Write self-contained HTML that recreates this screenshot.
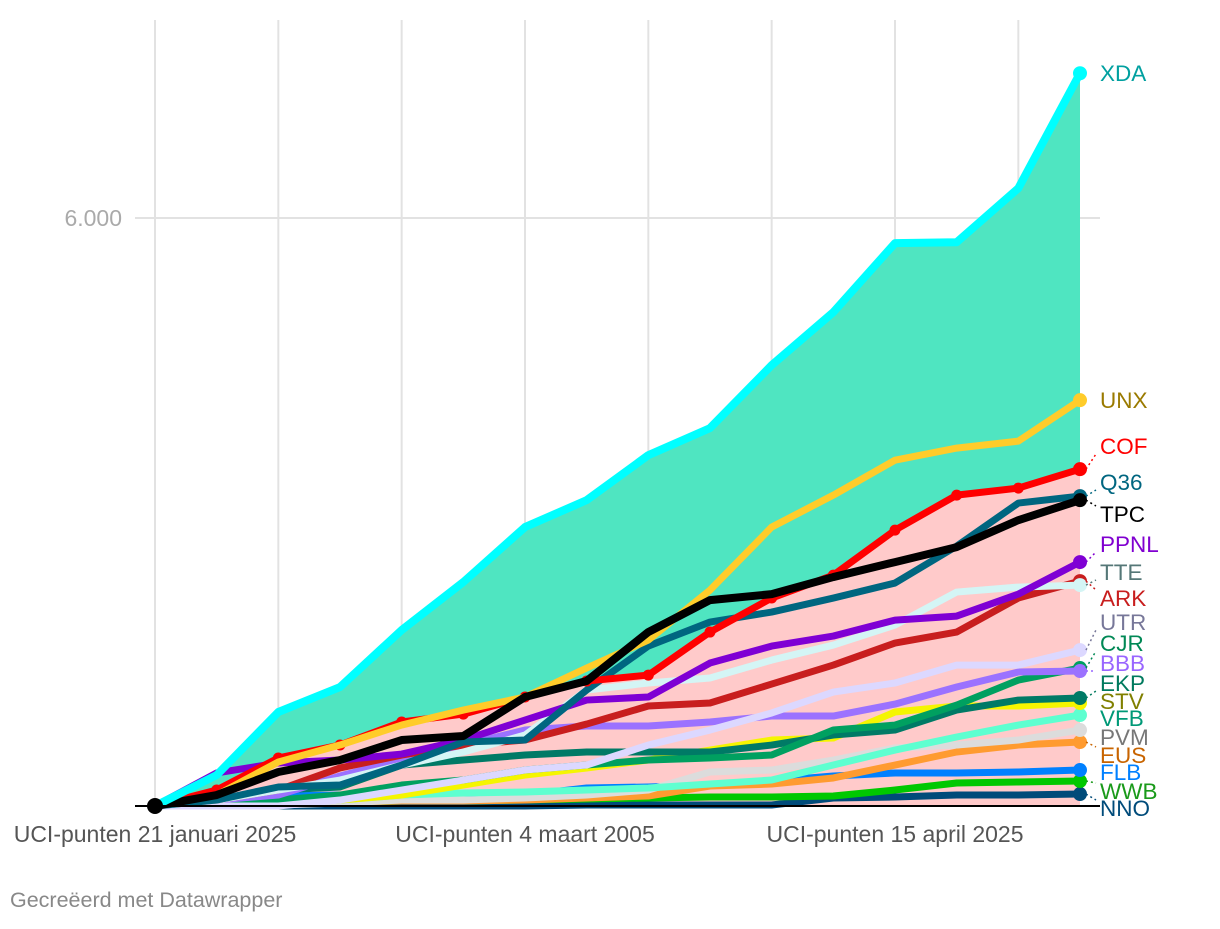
<!DOCTYPE html>
<html><head><meta charset="utf-8"><style>
body{margin:0;background:#fff;font-family:"Liberation Sans",sans-serif;}
svg text{font-family:"Liberation Sans",sans-serif;}
</style></head><body>
<svg id="chart" width="1220" height="924" xmlns="http://www.w3.org/2000/svg">
<g id="grid"></g><g id="areas"></g><g id="lines"></g><g id="labels"></g>
<text x="10" y="907" font-size="21.5" fill="#888">Gecreëerd met Datawrapper</text>
</svg>
<script>
const NS="http://www.w3.org/2000/svg";
const xTickLabels=["UCI-punten 21 januari 2025","UCI-punten 4 maart 2005","UCI-punten 15 april 2025"];
const xTickIdx=[0,6,12];
const yTicks=[6000];
const names=["NNO","WWB","FLB","EUS","PVM","VFB","STV","EKP","CJR","BBB","UTR","ARK","TTE","PPNL","Q36","COF","UNX","TPC","XDA"];
const colors=["#004b7a","#00c800","#0080ff","#ff9b30","#dcdcdc","#5effd0","#f5f500","#007a66","#00a060","#9b72ff","#dcd8ff","#c81e1e","#d4f5f5","#7f00d4","#006680","#ff0000","#ffcc2a","#000000","#00ffff"];
const labelColors=["#004b7a","#1a9a1a","#0080ff","#c86400","#777777","#009977","#808000","#007a5e","#008855","#9966ff","#777799","#c81e1e","#557777","#8000d0","#006680","#ff0000","#9a7a00","#000000","#00a0a0"];
const labelY=[808,791,772,755,737,718,701,683,643,663,622,598,572,544,482,446,400,514,73];
const sNNO=[0,0,0,0,0,0,0,10,10,10,10,82,92,112,112,122];
const sWWB=[0,10,20,41,51,51,61,71,82,92,92,102,163,235,245,255];
const sFLB=[0,61,102,112,112,112,112,184,194,214,255,306,337,337,347,367];
const sEUS=[0,10,31,41,51,51,61,82,102,204,224,286,418,551,622,653];
const sPVM=[0,0,10,31,61,61,82,112,163,347,367,469,592,622,673,775];
const sVFB=[0,0,20,61,112,133,143,163,184,224,265,418,571,704,826,928];
const sSTV=[0,0,10,61,112,214,316,388,469,571,673,694,959,1020,1020,1051];
const sEKP=[0,61,163,194,418,469,520,551,551,551,622,724,775,979,1081,1102];
const sCJR=[0,10,61,112,214,265,367,418,469,490,520,775,826,1030,1285,1408];
const sBBB=[0,61,112,306,469,622,775,816,816,857,918,918,1040,1214,1367,1377];
const sUTR=[0,0,0,61,163,265,367,418,622,775,949,1163,1255,1438,1438,1591];
const sARK=[0,61,163,388,520,622,673,836,1020,1051,1244,1438,1663,1775,2122,2295];
const sTTE=[0,61,163,265,418,551,724,1183,1255,1306,1489,1642,1846,2183,2234,2254];
const sPPNL=[0,337,439,469,530,673,877,1081,1112,1459,1632,1734,1897,1938,2162,2489];
const sQ36=[0,61,194,214,418,653,673,1183,1632,1877,1979,2122,2275,2652,3091,3162];
const sCOF=[0,163,490,622,857,938,1112,1275,1336,1775,2122,2356,2815,3172,3244,3437];
const sUNX=[0,112,449,622,826,979,1112,1408,1693,2203,2846,3172,3529,3652,3723,4141];
const sTPC=[0,112,347,469,673,714,1112,1275,1775,2101,2162,2336,2489,2642,2917,3121];
const sXDA=[0,316,959,1214,1795,2285,2846,3121,3580,3856,4498,5039,5743,5753,6304,7477];
const series=[sNNO,sWWB,sFLB,sEUS,sPVM,sVFB,sSTV,sEKP,sCJR,sBBB,sUTR,sARK,sTTE,sPPNL,sQ36,sCOF,sUNX,sTPC,sXDA];
const n=sXDA.length;
const X=i=>155+i*(1080-155)/(n-1);
const Y=v=>806-v*(588/6000);
function mk(tag,attrs,parent){const e=document.createElementNS(NS,tag);for(const k in attrs)e.setAttribute(k,attrs[k]);document.getElementById(parent).appendChild(e);return e;}
for(let k=0;k<n;k+=2){const g=mk('line',{x1:X(k),x2:X(k),y1:20,y2:806,stroke:'#e2e2e2','stroke-width':2},'grid');

}
yTicks.forEach(t=>{const g=mk('line',{x1:135,x2:1100,y1:Y(t),y2:Y(t),stroke:'#e2e2e2','stroke-width':2},'grid');


const tx=mk('text',{x:122,y:Y(t)+8,'text-anchor':'end','font-size':23,fill:'#aaa'},'grid');tx.textContent=t.toLocaleString('de-DE');

});
xTickIdx.forEach((k,j)=>{const tx=mk('text',{x:X(k),y:842,'text-anchor':'middle','font-size':23,fill:'#555'},'grid');tx.textContent=xTickLabels[j];

});
function areaPath(s){let d='M'+X(0)+','+Y(0);s.forEach((v,i)=>d+=' L'+X(i)+','+Y(v));d+=' L'+X(n-1)+','+Y(0)+' Z';return d;}
const a1=mk('path',{d:areaPath(sXDA),fill:'#4fe5c1'},'areas');


const a2=mk('path',{d:areaPath(sCOF),fill:'#ffcaca'},'areas');


series.forEach((s,j)=>{
 const pts=s.map((v,i)=>X(i)+','+Y(v)).join(' ');
 const w=names[j]=='TPC'?8:(names[j]=='XDA'?8:7);
 const l=mk('polyline',{points:pts,fill:'none',stroke:colors[j],'stroke-width':w,'stroke-linejoin':'round'},'lines');
 
 
 if(names[j]=='COF'){s.forEach((v,i)=>{const c=mk('circle',{cx:X(i),cy:Y(v),r:5.5,fill:colors[j]},'lines');
  
  });}
 const d=mk('circle',{cx:X(n-1),cy:Y(s[n-1]),r:7,fill:colors[j]},'lines');
 
 
 const ly=labelY[j];
 if(Math.abs(Y(s[n-1])-ly)>8){
 const ln=mk('line',{x1:X(n-1)+6,y1:Y(s[n-1]),x2:1096,y2:ly+(ly>Y(s[n-1])?-8:8),stroke:labelColors[j],'stroke-width':1.5,'stroke-dasharray':'2,3'},'labels');
 
 }
 const t=mk('text',{x:1100,y:ly+8,'font-size':22.5,fill:labelColors[j]},'labels');t.textContent=names[j];
 
 
});
const st=mk('circle',{cx:X(0),cy:Y(0),r:8,fill:'#000'},'lines');


const base=mk('line',{x1:135,x2:1100,y1:Y(0),y2:Y(0),stroke:'#000','stroke-width':2},'lines');


</script>
</body></html>
